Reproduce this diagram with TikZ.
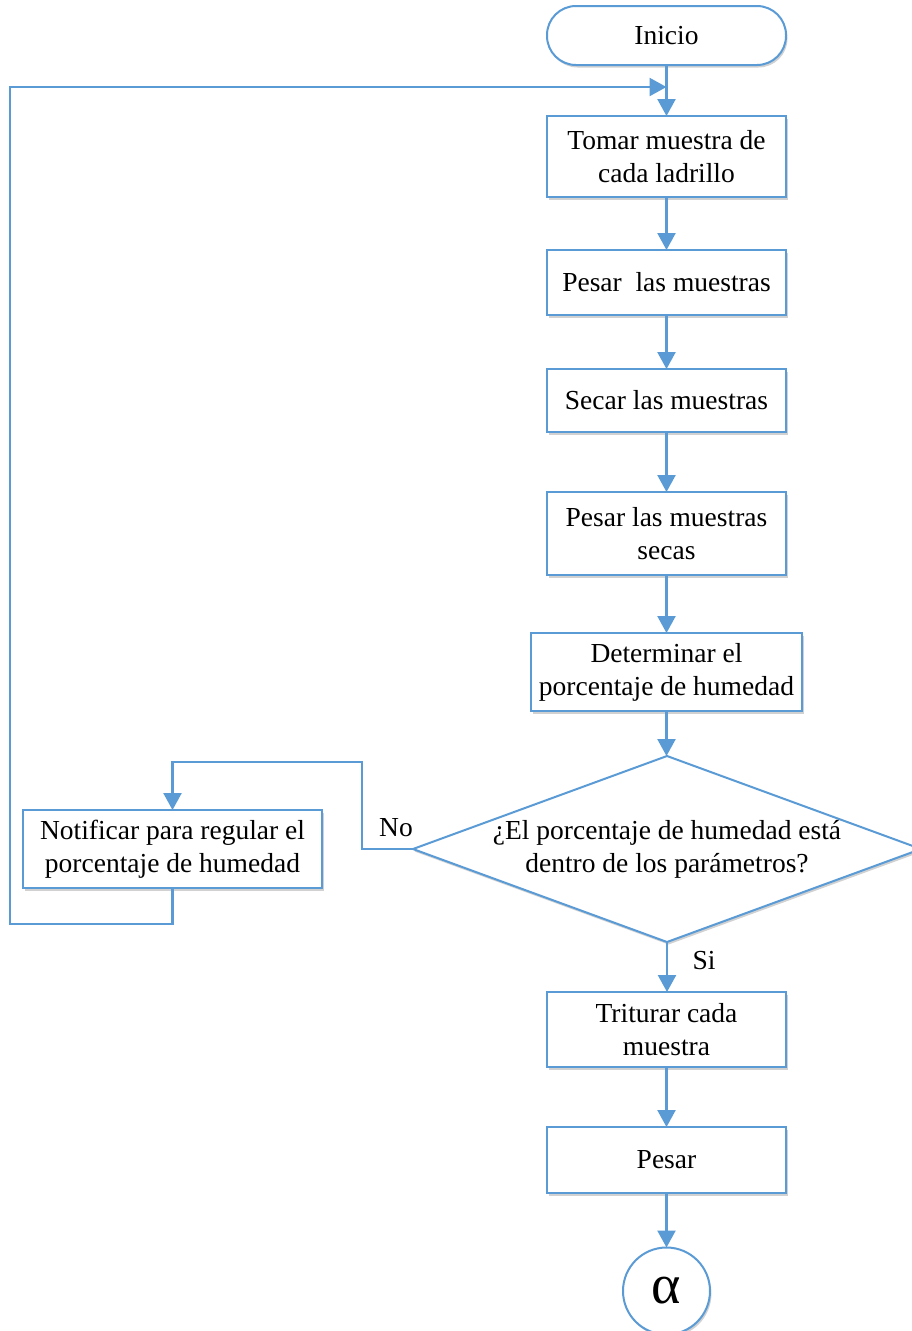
\documentclass[tikz,border=0pt]{standalone}
\usepackage{fontspec}
\setmainfont{Liberation Serif}[Ligatures=NoCommon]
\usetikzlibrary{arrows.meta,shapes.geometric,shadows}
\definecolor{flow}{HTML}{5B9BD5}
\begin{document}
\begin{tikzpicture}[x=1pt,y=-1pt,
  every node/.style={font=\fontsize{27.5}{33}\selectfont, outer sep=0pt},
  shade/.style={drop shadow={shadow xshift=1.5pt,shadow yshift=-2.5pt,opacity=0.18,fill=black}},
  stepbox/.style={draw=flow, line width=2pt, fill=white, rectangle, minimum width=239pt,
    align=center, inner sep=0pt, shade},
  term/.style={stepbox, rounded corners=29pt},
  decision/.style={diamond, draw=flow, line width=2pt, fill=white, minimum width=508pt,
    minimum height=186pt, inner sep=0pt, shade},
  conn/.style={draw=flow, line width=2.4pt},
  arr/.style={conn, -{Triangle[width=18pt,length=17pt]}}]
\useasboundingbox (0,0) rectangle (912,1331);

% process chain
\node[term, minimum height=59pt] (start) at (666.5,35.5) {Inicio};
\node[stepbox, minimum height=81pt] (s1) at (666.5,156.5) {Tomar muestra de\\cada ladrillo};
\node[stepbox, minimum height=65pt] (s2) at (666.5,282.5) {Pesar~ las muestras};
\node[stepbox, minimum height=63pt] (s3) at (666.5,400.5) {Secar las muestras};
\node[stepbox, minimum height=83pt] (s4) at (666.5,533.5) {Pesar las muestras\\secas};
\node[stepbox, minimum width=271pt, minimum height=78pt] (s5) at (666.5,672) {Determinar el\\porcentaje de humedad};
\node[decision] (q) at (667,849) {};
\node[align=center] (qt) at (q.center) {¿El porcentaje de humedad está\\dentro de los parámetros?};
\node[stepbox, minimum width=299pt, minimum height=78pt] (nt) at (172.5,849) {Notificar para regular el\\porcentaje de humedad};
\node[stepbox, minimum height=75pt] (s6) at (666.5,1029.5) {Triturar cada\\muestra};
\node[stepbox, minimum height=66pt] (s7) at (666.5,1160) {Pesar};
\node[circle, draw=flow, line width=2pt, fill=white, minimum size=87pt, inner sep=0pt, shade]
  (end) at (666.5,1291) {\fontsize{56}{56}\selectfont α};

% branch labels
\node (no) at (396,828) {No};
\node (si) at (704,961) {Si};

% connectors
\coordinate (merge) at (666.5,87);
\draw[arr] (start) -- (s1);
\draw[arr] (s1) -- (s2);
\draw[arr] (s2) -- (s3);
\draw[arr] (s3) -- (s4);
\draw[arr] (s4) -- (s5);
\draw[arr] (s5.south) -- (s5.south |- q.north);
\draw[arr] (q.south) -- (q.south |- s6.north);
\draw[arr] (s6) -- (s7);
\draw[arr] (s7) -- (end);
\draw[arr] (q.west) -- (362,849) -- (362,762) -| (nt.north);
\draw[arr] (nt.south) -- (172.5,924) -- (10,924) -- (10,87) -- (merge);
\end{tikzpicture}
\end{document}
